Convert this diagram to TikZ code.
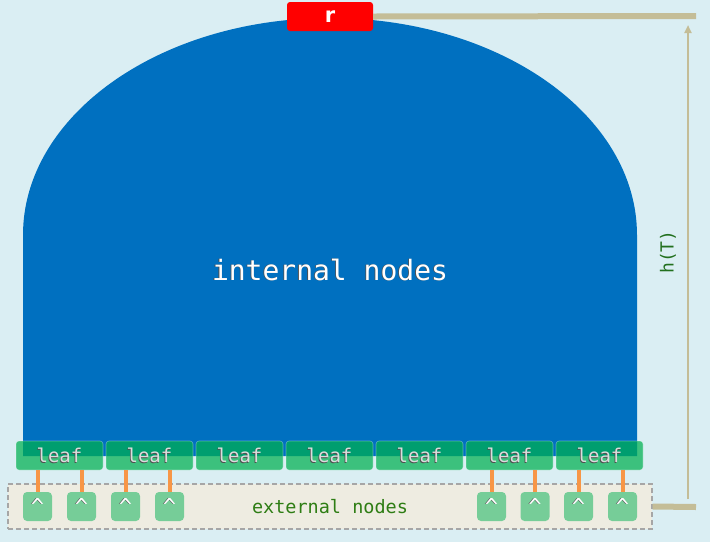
\documentclass[tikz,border=0pt]{standalone}
\usepackage{fontspec}
\usetikzlibrary{arrows.meta}
\newfontfamily\monof{DejaVu Sans Mono}
\newfontfamily\sansf{DejaVu Sans}
\definecolor{bgaqua}{HTML}{DAEEF3}
\definecolor{treeblue}{HTML}{0070C0}
\definecolor{leafgreen}{HTML}{00B050}
\definecolor{connorange}{HTML}{F79646}
\definecolor{tanline}{HTML}{C4BD97}
\definecolor{extfill}{HTML}{EEECE1}
\definecolor{dashgray}{HTML}{A6A6A6}
\definecolor{htgreen}{HTML}{22701E}
\definecolor{exttext}{HTML}{2E7D14}
\definecolor{leaftext}{HTML}{DCDCDC}
\definecolor{shadowgray}{HTML}{505050}
\newcommand\shtxt[2]{\leavevmode\rlap{\hspace{-0.8pt}\raisebox{-0.8pt}{\textcolor{shadowgray}{#2}}}\textcolor{#1}{#2}}
\tikzset{
  leafbox/.style={rectangle, rounded corners=3pt, fill=leafgreen, fill opacity=0.72,
    draw=white, draw opacity=0.35, line width=0.6pt, text opacity=1,
    minimum width=87pt, minimum height=29pt, inner sep=0pt,
    font=\monof\fontsize{19}{21}\selectfont},
  extnode/.style={rectangle, rounded corners=4pt, fill=leafgreen, fill opacity=0.5,
    text opacity=1, text=white, minimum width=29pt, minimum height=29pt, inner sep=0pt,
    font=\monof\fontsize{22}{24}\selectfont},
  conn/.style={connorange, line width=4pt},
  tanrule/.style={tanline, line width=6pt},
  dimarrow/.style={tanline, line width=2pt, -{Triangle[length=8pt,width=7pt]}},
}
\begin{document}
\begin{tikzpicture}[x=1pt,y=-1pt]
\useasboundingbox (0,0) rectangle (710,542);
\fill[bgaqua] (0,0) rectangle (710,542);
% internal nodes region
\fill[treeblue] (23,456) -- (23,235) arc[start angle=180, end angle=0, x radius=307pt, y radius=217pt] -- (637,456) -- cycle;
\node[text=white, font=\monof\fontsize{28}{30}\selectfont] (internal) at (330,270) {\shtxt{white}{internal nodes}};
% root
\node[rectangle, rounded corners=3pt, fill=red, text=white, minimum width=86pt, minimum height=29pt, inner sep=0pt,
  font=\sansf\bfseries\fontsize{21}{23}\selectfont] (r) at (330,16.5) {r};
% external nodes box
\node[rectangle, draw=dashgray, dash pattern=on 5pt off 3pt, line width=1.4pt, fill=extfill,
  minimum width=644pt, minimum height=45pt, inner sep=0pt] (ext) at (330,506.5) {};
\node[text=exttext, font=\monof\fontsize{18.5}{20}\selectfont] (exttxt) at (330,507) {external nodes};
% leaves
\foreach \i/\x in {1/59.5,2/149.5,3/239.5,4/329.5,5/419.5,6/509.5,7/599.5}
  \node[leafbox] (l\i) at (\x,455.5) {\shtxt{leaftext}{leaf}};
% external children
\foreach \i/\x in {1/37.5,2/81.5,3/125.5,4/169.5,5/491.5,6/535,7/578.5,8/622.5}
  \node[extnode] (e\i) at (\x,506.5) {\shtxt{white}{\^{}}};
% connectors
\foreach \l/\e in {1/1,1/2,2/3,2/4,6/5,6/6,7/7,7/8}
  \draw[conn] (e\e.north |- l\l.south) -- (e\e.north);
% height dimension
\coordinate (topend) at (696,16);
\coordinate (botend) at (696,507);
\coordinate (hbot) at (688,499);
\coordinate (htop) at (688,25);
\draw[tanrule] (r.east) -- (topend);
\draw[tanrule] (ext.east) -- (botend);
\draw[dimarrow] (hbot) -- (htop);
\node[rotate=90, text=htgreen, font=\monof\fontsize{18}{20}\selectfont] (hT) at (668,252) {h(T)};
\end{tikzpicture}
\end{document}
